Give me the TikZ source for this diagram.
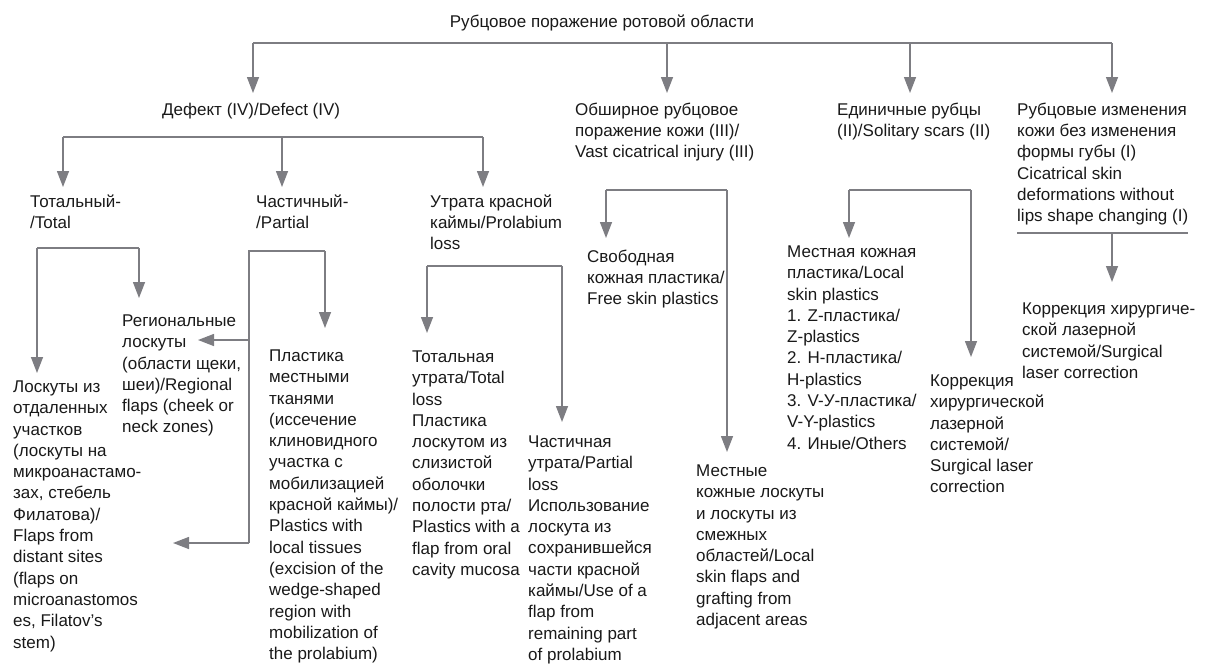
\documentclass[tikz,border=0pt]{standalone}
\usepackage{fontspec}
\setmainfont{Liberation Sans}
\usetikzlibrary{arrows.meta}
\definecolor{lc}{RGB}{125,125,130}
\definecolor{tc}{RGB}{25,25,25}
\begin{document}
\begin{tikzpicture}[x=1pt,y=-1pt,
  lbl/.style={anchor=north west,inner sep=0pt,align=left,text=tc,font=\fontsize{17}{21.3}\selectfont,execute at begin node={\rule{0pt}{13pt}}},
  ln/.style={draw=lc,line width=1.4pt},
  arr/.style={draw=lc,line width=1.4pt,-{Triangle[length=16pt,width=12pt,fill=lc]}}]
\useasboundingbox (0,0) rectangle (1209,664);
% texts (positions: left edge, first baseline - 13)
\node[lbl,anchor=north] (title) at (602,14.5) {Рубцовое поражение ротовой области};
\node[lbl] (defect) at (162,102.5) {Дефект (IV)/Defect (IV)};
\node[lbl] (vast) at (575,102.5) {Обширное рубцовое\\поражение кожи (III)/\\Vast cicatrical injury (III)};
\node[lbl] (solit) at (837,102.5) {Единичные рубцы\\(II)/Solitary scars (II)};
\node[lbl] (cicat) at (1017,102.5) {Рубцовые изменения\\кожи без изменения\\формы губы (I)\\Cicatrical skin\\deformations without\\lips shape changing (I)};
\node[lbl] (total) at (30,194.5) {Тотальный-\\/Total};
\node[lbl] (partial) at (256,194.5) {Частичный-\\/Partial};
\node[lbl] (prolab) at (430,194.5) {Утрата красной\\каймы/Prolabium\\loss};
\node[lbl] (regional) at (122,314.5) {Региональные\\лоскуты\\(области щеки,\\шеи)/Regional\\flaps (cheek or\\neck zones)};
\node[lbl] (distant) at (13,380.5) {Лоскуты из\\отдаленных\\участков\\(лоскуты на\\микроанастамо-\\зах, стебель\\Филатова)/\\Flaps from\\distant sites\\(flaps on\\microanastomos\\es, Filatov's\\stem)};
\node[lbl] (localtis) at (269,349.5) {Пластика\\местными\\тканями\\(иссечение\\клиновидного\\участка с\\мобилизацией\\красной каймы)/\\Plastics with\\local tissues\\(excision of the\\wedge-shaped\\region with\\mobilization of\\the prolabium)};
\node[lbl] (totloss) at (412,350.5) {Тотальная\\утрата/Total\\loss\\Пластика\\лоскутом из\\слизистой\\оболочки\\полости рта/\\Plastics with a\\flap from oral\\cavity mucosa};
\node[lbl] (partloss) at (528,435.5) {Частичная\\утрата/Partial\\loss\\Использование\\лоскута из\\сохранившейся\\части красной\\каймы/Use of a\\flap from\\remaining part\\of prolabium};
\node[lbl] (freeskin) at (587,249.5) {Свободная\\кожная пластика/\\Free skin plastics};
\node[lbl] (localflaps) at (696,464.5) {Местные\\кожные лоскуты\\и лоскуты из\\смежных\\областей/Local\\skin flaps and\\grafting from\\adjacent areas};
\node[lbl] (localskin) at (787,245.5) {Местная кожная\\пластика/Local\\skin plastics\\1. Z-пластика/\\Z-plastics\\2. Н-пластика/\\H-plastics\\3. V-У-пластика/\\V-Y-plastics\\4. Иные/Others};
\node[lbl] (laser2) at (930,374.5) {Коррекция\\хирургической\\лазерной\\системой/\\Surgical laser\\correction};
\node[lbl] (laser1) at (1022,302.5) {Коррекция хирургиче-\\ской лазерной\\системой/Surgical\\laser correction};
% level 1
\coordinate (t1) at (253,43); \coordinate (t2) at (667,43);
\coordinate (t3) at (910,43); \coordinate (t4) at (1112,43);
\coordinate (tipdefect) at (253,93); \coordinate (tipvast) at (667,93);
\coordinate (tipsolit) at (910,93); \coordinate (tipcicat) at (1112,93);
\draw[ln] (t1) -- (t4);
\draw[arr] (t1) -- (tipdefect);
\draw[arr] (t2) -- (tipvast);
\draw[arr] (t3) -- (tipsolit);
\draw[arr] (t4) -- (tipcicat);
% defect level
\coordinate (d1) at (63,137); \coordinate (d2) at (282,137); \coordinate (d3) at (483,137);
\draw[ln] (d1) -- (d3);
\draw[arr] (d1) -- (63,187) coordinate (tiptotal);
\draw[arr] (d2) -- (282,187) coordinate (tippartial);
\draw[arr] (d3) -- (483,187) coordinate (tipprolab);
% total bracket
\coordinate (tl) at (37,248); \coordinate (tr) at (139,248);
\draw[ln] (tl) -- (tr);
\draw[arr] (tl) -- (37,373) coordinate (tipdistant);
\draw[arr] (tr) -- (139,298) coordinate (tipregional);
% partial bracket
\coordinate (pl) at (249,251); \coordinate (pr) at (325,251);
\coordinate (pm) at (249,340); \coordinate (pb) at (249,543);
\draw[ln] (pr) -- (pl) -- (pb);
\draw[arr] (pr) -- (325,328) coordinate (tiplocaltis);
\draw[arr] (pm) -- (198,340) coordinate (tipregional2);
\draw[arr] (pb) -- (173,543) coordinate (tipdistant2);
% prolabium bracket
\coordinate (ul) at (427,266); \coordinate (ur) at (562,266);
\draw[ln] (ul) -- (ur);
\draw[arr] (ul) -- (427,333) coordinate (tiptotloss);
\draw[arr] (ur) -- (562,422) coordinate (tippartloss);
% vast bracket
\coordinate (vl) at (606,190); \coordinate (vr) at (727,190);
\draw[ln] (vl) -- (vr);
\draw[arr] (vl) -- (606,238) coordinate (tipfree);
\draw[arr] (vr) -- (727,452) coordinate (tiplocalflaps);
% solitary bracket
\coordinate (sl) at (849,190); \coordinate (sr) at (971,190);
\draw[ln] (sl) -- (sr);
\draw[arr] (sl) -- (849,238) coordinate (tiplocalskin);
\draw[arr] (sr) -- (971,357) coordinate (tiplaser2);
% cicatrical
\coordinate (cl) at (1017,233); \coordinate (cr) at (1188,233); \coordinate (cm) at (1112,233);
\draw[ln] (cl) -- (cr);
\draw[arr] (cm) -- (1112,282) coordinate (tiplaser1);
\end{tikzpicture}
\end{document}
